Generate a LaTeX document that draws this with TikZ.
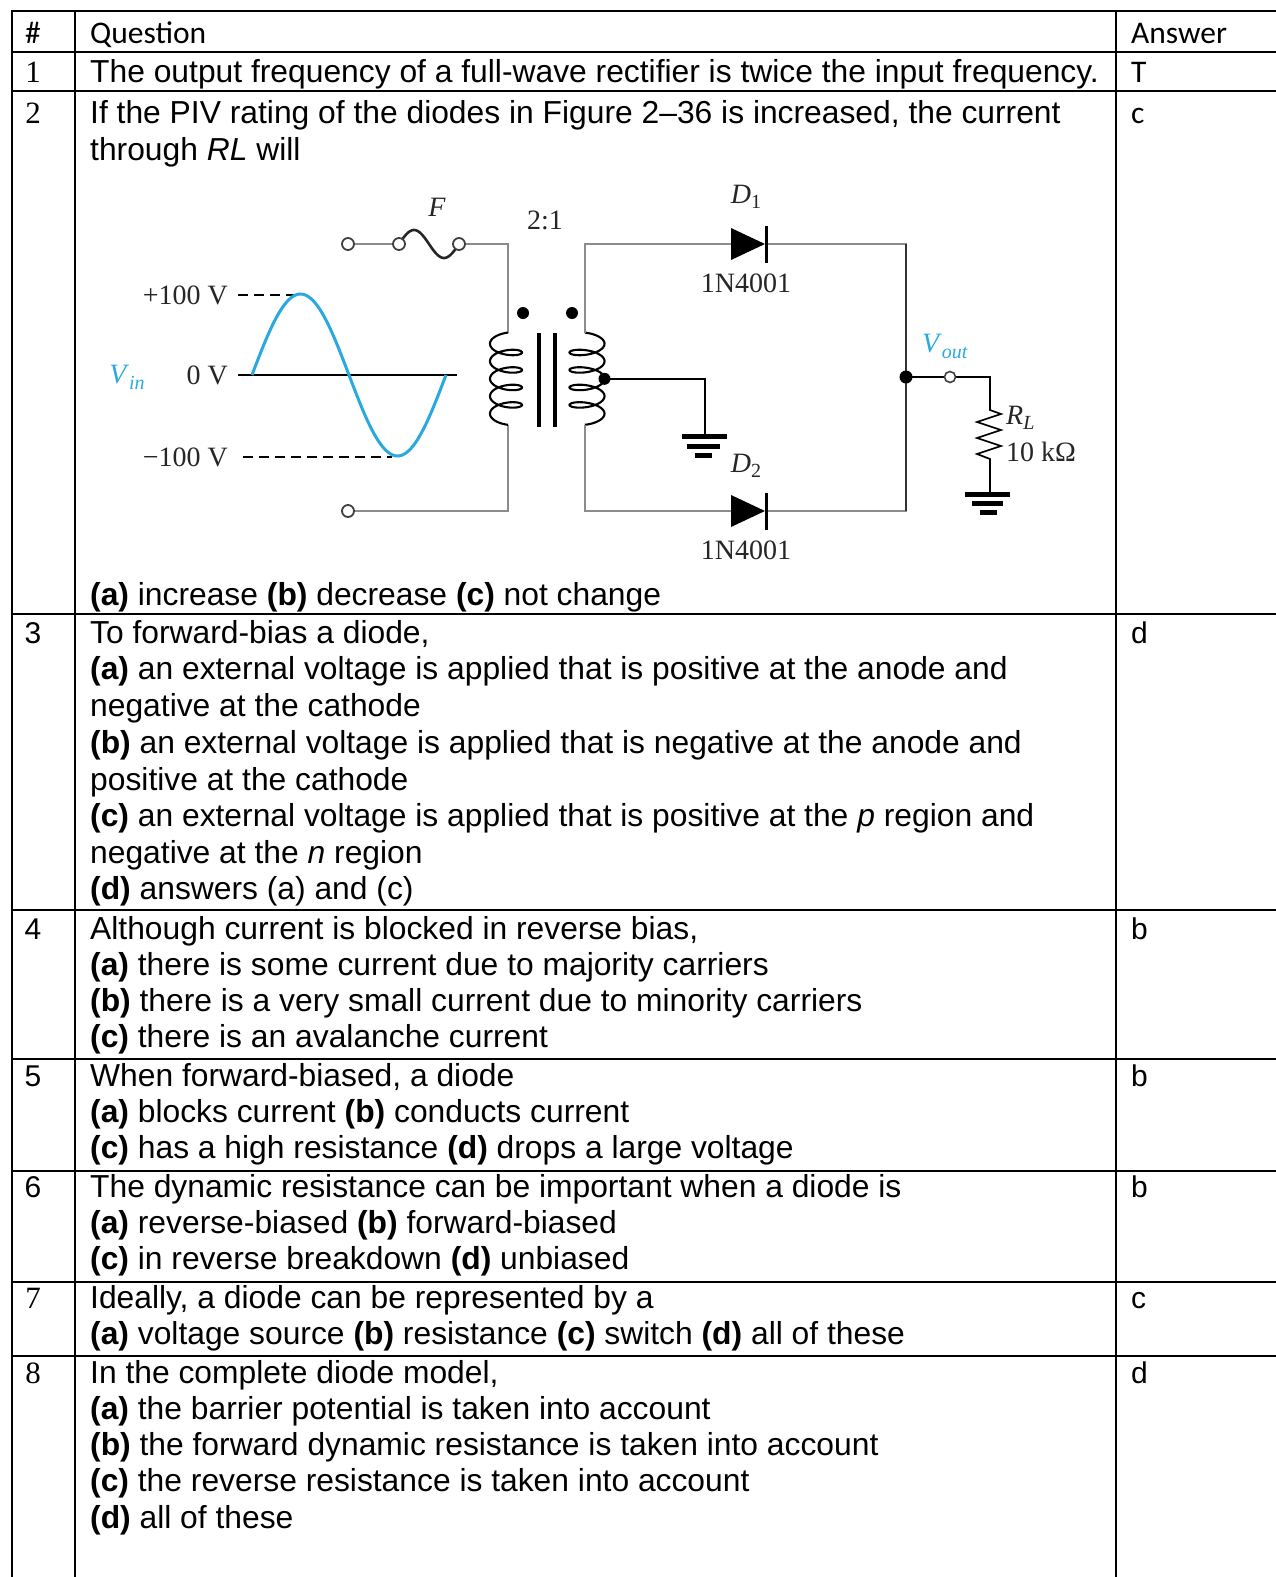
\documentclass[tikz,border=0pt]{standalone}
\usepackage{fontspec}
\setmainfont{Liberation Sans}
\newfontfamily\arialf{Liberation Sans}
\newfontfamily\timesf{Liberation Serif}
\newfontfamily\calf{Carlito}
\definecolor{wiregray}{HTML}{8C8C8C}
\definecolor{sineblue}{HTML}{2AA9E0}
\definecolor{lbl}{HTML}{262626}
\begin{document}
\begin{tikzpicture}[x=1pt,y=-1pt,
  tbl/.style={line width=2.2pt, line cap=rect},
  qline/.style={anchor=base west, inner sep=0pt, font={\arialf\fontsize{31.8}{38}\selectfont}},
  numt/.style={anchor=base, inner sep=0pt, font={\timesf\fontsize{31}{36}\selectfont}},
  numa/.style={anchor=base, inner sep=0pt, font={\arialf\fontsize{30}{36}\selectfont}},
  ansa/.style={anchor=base west, inner sep=0pt, font={\arialf\fontsize{30}{36}\selectfont}},
  ansc/.style={anchor=base west, inner sep=0pt, font={\calf\fontsize{31.5}{36}\selectfont}},
  hdr/.style={anchor=base west, inner sep=0pt, font={\calf\fontsize{31.5}{36}\selectfont}},
  wire/.style={wiregray, line width=2.4pt},
  bwire/.style={black, line width=1.7pt},
  coil/.style={black, line width=2.1pt},
  clbl/.style={inner sep=0pt, text=lbl, font={\timesf\fontsize{28}{30}\selectfont}},
  blbl/.style={inner sep=0pt, text=sineblue, font={\timesf\fontsize{28}{30}\selectfont}},
  term/.style={draw=black!75, fill=white, line width=1.8pt},
  gbar/.style={black, line width=5pt},
]
\useasboundingbox (0,0) rectangle (1276,1577);
\fill[white] (0,0) rectangle (1276,1577);

% ---------- table rules ----------
\draw[tbl] (12,11) -- (1276,11);
\draw[tbl] (12,52) -- (1276,52);
\draw[tbl] (12,91) -- (1276,91);
\draw[tbl] (12,614) -- (1276,614);
\draw[tbl] (12,910) -- (1276,910);
\draw[tbl] (12,1059) -- (1276,1059);
\draw[tbl] (12,1171) -- (1276,1171);
\draw[tbl] (12,1282) -- (1276,1282);
\draw[tbl] (12,1356) -- (1276,1356);
\draw[tbl] (12,11) -- (12,1577);
\draw[tbl] (75,11) -- (75,1577);
\draw[tbl] (1116,11) -- (1116,1577);

% ---------- header ----------
\node[hdr] (hnum) at (25,43) {\#};
\node[hdr] (hq) at (90,43) {Question};
\node[hdr] (ha) at (1131,43) {Answer};

% ---------- row 1 ----------
\node[numt] (n1) at (33,82) {1};
\node[qline] (q1) at (90,82) {The output frequency of a full-wave rectifier is twice the input frequency.};
\node[ansc] (a1) at (1131,82) {T};

% ---------- row 2 ----------
\node[numt] (n2) at (33,123) {2};
\node[qline] (q2a) at (90,123) {If the PIV rating of the diodes in Figure 2–36 is increased, the current};
\node[qline] (q2b) at (90,160) {through \textit{RL} will};
\node[qline] (q2c) at (90,605) {\textbf{(a)} increase \textbf{(b)} decrease \textbf{(c)} not change};
\node[ansc] (a2) at (1131,123) {c};

% ---------- row 3 ----------
\node[numa] (n3) at (33,643) {3};
\node[qline] (q3a) at (90,643) {To forward-bias a diode,};
\node[qline] (q3b) at (90,679) {\textbf{(a)} an external voltage is applied that is positive at the anode and};
\node[qline] (q3c) at (90,716) {negative at the cathode};
\node[qline] (q3d) at (90,753) {\textbf{(b)} an external voltage is applied that is negative at the anode and};
\node[qline] (q3e) at (90,790) {positive at the cathode};
\node[qline] (q3f) at (90,826) {\textbf{(c)} an external voltage is applied that is positive at the \textit{p} region and};
\node[qline] (q3g) at (90,863) {negative at the \textit{n} region};
\node[qline] (q3h) at (90,899) {\textbf{(d)} answers (a) and (c)};
\node[ansa] (a3) at (1131,643) {d};

% ---------- row 4 ----------
\node[numa] (n4) at (33,939) {4};
\node[qline] (q4a) at (90,939) {Although current is blocked in reverse bias,};
\node[qline] (q4b) at (90,975) {\textbf{(a)} there is some current due to majority carriers};
\node[qline] (q4c) at (90,1011) {\textbf{(b)} there is a very small current due to minority carriers};
\node[qline] (q4d) at (90,1047) {\textbf{(c)} there is an avalanche current};
\node[ansa] (a4) at (1131,939) {b};

% ---------- row 5 ----------
\node[numa] (n5) at (33,1086) {5};
\node[qline] (q5a) at (90,1086) {When forward-biased, a diode};
\node[qline] (q5b) at (90,1122) {\textbf{(a)} blocks current \textbf{(b)} conducts current};
\node[qline] (q5c) at (90,1158) {\textbf{(c)} has a high resistance \textbf{(d)} drops a large voltage};
\node[ansa] (a5) at (1131,1086) {b};

% ---------- row 6 ----------
\node[numa] (n6) at (33,1197) {6};
\node[qline] (q6a) at (90,1197) {The dynamic resistance can be important when a diode is};
\node[qline] (q6b) at (90,1233) {\textbf{(a)} reverse-biased \textbf{(b)} forward-biased};
\node[qline] (q6c) at (90,1269) {\textbf{(c)} in reverse breakdown \textbf{(d)} unbiased};
\node[ansa] (a6) at (1131,1197) {b};

% ---------- row 7 ----------
\node[numt] (n7) at (33,1308) {7};
\node[qline] (q7a) at (90,1308) {Ideally, a diode can be represented by a};
\node[qline] (q7b) at (90,1344) {\textbf{(a)} voltage source \textbf{(b)} resistance \textbf{(c)} switch \textbf{(d)} all of these};
\node[ansa] (a7) at (1131,1308) {c};

% ---------- row 8 ----------
\node[numt] (n8) at (33,1383) {8};
\node[qline] (q8a) at (90,1383) {In the complete diode model,};
\node[qline] (q8b) at (90,1419) {\textbf{(a)} the barrier potential is taken into account};
\node[qline] (q8c) at (90,1455) {\textbf{(b)} the forward dynamic resistance is taken into account};
\node[qline] (q8d) at (90,1491) {\textbf{(c)} the reverse resistance is taken into account};
\node[qline] (q8e) at (90,1528) {\textbf{(d)} all of these};
\node[ansa] (a8) at (1131,1383) {d};

% ================= circuit =================
% input waveform
\draw[black, line width=1.5pt] (238,375) -- (457,375);
\draw[black, line width=1.5pt, dash pattern=on 10pt off 6pt] (238,295) -- (296,295);
\draw[black, line width=1.5pt, dash pattern=on 10pt off 6pt] (243,457) -- (392,457);
\draw[sineblue, line width=3pt] plot[domain=0:360, samples=90, smooth] ({252+194/360*\x},{375-81*sin(\x)});
\node[clbl, anchor=east] (lp) at (228,295) {+100 V};
\node[clbl, anchor=east] (l0) at (228,375) {0 V};
\node[clbl, anchor=east] (lm) at (228,457) {−100 V};
\node[blbl] (vin) at (127,377) {\textit{V}\raisebox{-6pt}{\fontsize{20}{22}\selectfont\textit{in}}};

% fuse and input terminals
\coordinate (tp) at (508,244);
\coordinate (bp) at (508,511);
\draw[wire] (348,244) -- (399,244);
\draw[wire] (459,244) -- (tp) -- (508,332.6);
\draw[black!85, line width=2.6pt] plot[domain=0:360, samples=60, smooth] ({399+60/360*\x},{244-14*sin(\x)});
\draw[term] (348,244) circle (6pt);
\draw[term] (399,244) circle (6pt);
\draw[term] (459,244) circle (6pt);
\node[clbl, font={\timesf\itshape\fontsize{28}{30}\selectfont}] (F) at (437,207) {F};
\draw[wire] (348,511) -- (bp) -- (508,424.9);
\draw[term] (348,511) circle (6pt);

% transformer
\draw[coil] plot[domain=83:1717, samples=300, smooth] ({506+16*cos(\x)},{335+2.785/180*pi*\x-6.5*sin(\x)});
\draw[coil] plot[domain=83:1717, samples=300, smooth] ({587-17.5*cos(\x)},{335+2.785/180*pi*\x-6.5*sin(\x)});
\draw[black, line width=3.5pt] (539,333) -- (539,427);
\draw[black, line width=3.5pt] (555,333) -- (555,427);
\fill (523,313) circle (6pt);
\fill (572,313) circle (6pt);
\node[clbl] (ratio) at (545,220) {2:1};

% secondary wiring
\coordinate (ts) at (585,244);
\coordinate (bs) at (585,511);
\coordinate (tr) at (906,244);
\coordinate (br) at (906,511);
\draw[wire] (585,332.6) -- (ts) -- (733,244);
\draw[wire] (765,244) -- (tr) -- (br) -- (765,511);
\draw[wire] (733,511) -- (bs) -- (585,424.9);

% diodes
\fill[black] (731,228) -- (731,260) -- (765,244) -- cycle;
\draw[black, line width=3pt] (766,226) -- (766,263);
\fill[black] (731,495) -- (731,527) -- (765,511) -- cycle;
\draw[black, line width=3pt] (766,493) -- (766,530);
\node[clbl] (D1) at (746,197) {\textit{D}\raisebox{-5pt}{\fontsize{20}{22}\selectfont 1}};
\node[clbl] (p1) at (746,283) {1N4001};
\node[clbl] (D2) at (746,466) {\textit{D}\raisebox{-5pt}{\fontsize{20}{22}\selectfont 2}};
\node[clbl] (p2) at (746,550) {1N4001};

% center tap and ground
\coordinate (tap) at (604.5,378.8);
\coordinate (gt) at (705,378.8);
\coordinate (gb) at (705,434);
\fill (tap) circle (6pt);
\draw[bwire] (tap) -- (gt) -- (gb);
\draw[gbar] (682,436) -- (727,436);
\draw[gbar] (687,446) -- (720,446);
\draw[gbar] (695,455) -- (712,455);

% output
\coordinate (jn) at (906,377);
\coordinate (vo) at (950,377);
\draw[bwire] (jn) -- (990,377) -- (990,410)
  -- (1001,414) -- (977,422) -- (1001,430) -- (977,438) -- (1001,446) -- (977,454) -- (990,459)
  -- (990,492);
\draw[black!80, line width=2pt] (tr) -- (br);
\fill (jn) circle (6.5pt);
\draw[term, line width=1.6pt] (vo) circle (5.5pt);
\draw[gbar] (965,494) -- (1010,494);
\draw[gbar] (972,503) -- (1003,503);
\draw[gbar] (980,512) -- (997,512);
\node[blbl] (vout) at (945,346) {\textit{V}\raisebox{-6pt}{\fontsize{20}{22}\selectfont\textit{out}}};
\node[clbl, anchor=west] (RL) at (1006,418) {\textit{R}\raisebox{-5pt}{\fontsize{20}{22}\selectfont\textit{L}}};
\node[clbl, anchor=west] (RV) at (1006,452) {10 kΩ};
\end{tikzpicture}
\end{document}
